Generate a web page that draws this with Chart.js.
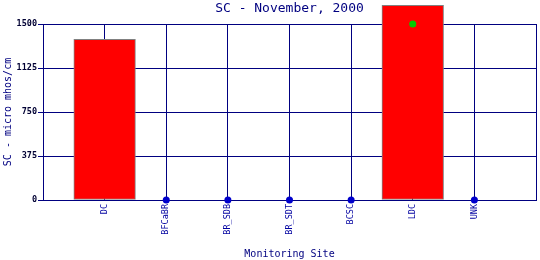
<!DOCTYPE html>
<html><head><meta charset="utf-8">
<script src="https://cdn.jsdelivr.net/npm/chart.js@4/dist/chart.umd.min.js"></script>
<style>html,body{margin:0;padding:0;background:#fff;overflow:hidden}#w{width:540px;height:260px}</style>
</head><body><div id="w"><canvas id="c"></canvas></div>
<script>
const titleText = 'SC - November, 2000';
const categories = ['DC','BFCaBR','BR_SDB','BR_SDT','BCSC','LDC','UNK'];
const scValues = [1370, null, null, null, null, 1660, null];
const noDataMarks = [null, 0, 0, 0, 0, null, 0];
const standardMarks = [null, null, null, null, null, 1500, null];
const yTicks = [0, 375, 750, 1125, 1500];

const pad = a => [null, ...a, null];
const labels = ['', ...categories, ''];
const NAVY = '#000080';
const MONO = '"DejaVu Sans Mono", "Liberation Mono", monospace';

const titlePlugin = {
  id: 'topTitle',
  afterDraw(chart) {
    const ctx = chart.ctx, a = chart.chartArea;
    ctx.save();
    ctx.font = '13px ' + MONO;
    ctx.fillStyle = NAVY;
    ctx.textAlign = 'center';
    ctx.textBaseline = 'middle';
    ctx.fillText(titleText, (a.left + a.right) / 2, 9);
    ctx.restore();
  }
};

new Chart(document.getElementById('c'), {
  data: {
    labels,
    datasets: [
      { type: 'bar', data: pad(scValues), backgroundColor: '#ff0000', borderColor: '#808080', borderWidth: 1,
        borderSkipped: false, barPercentage: 1, categoryPercentage: 1, clip: false, order: 3 },
      { type: 'line', data: pad(noDataMarks), showLine: false, pointRadius: 3.5, pointBackgroundColor: '#0000cc',
        pointBorderColor: '#0000cc', pointBorderWidth: 0, clip: false, order: 1 },
      { type: 'line', data: pad(standardMarks), showLine: false, pointRadius: 3.5, pointBackgroundColor: '#00cc00',
        pointBorderColor: '#00cc00', pointBorderWidth: 0, clip: false, order: 1 }
    ]
  },
  options: {
    responsive: true, maintainAspectRatio: false, animation: false,
    layout: { padding: { top: 24, right: 3, left: 0, bottom: 0 } },
    plugins: { legend: { display: false }, tooltip: { enabled: false }, title: { display: false } },
    scales: {
      x: {
        type: 'category', offset: false,
        grid: { color: NAVY, lineWidth: 1, drawTicks: false, offset: false },
        border: { color: NAVY, width: 1 },
        ticks: { autoSkip: false, minRotation: 90, maxRotation: 90, padding: 4, color: '#0000a0',
          font: { family: MONO, size: 8.5 } },
        title: { display: true, text: 'Monitoring Site', color: NAVY, font: { family: MONO, size: 10 },
          padding: { top: 0, bottom: 0 } },
        afterFit(s) { s.height = 60; s.paddingLeft = 0; s.paddingRight = 0; }
      },
      y: {
        min: 0, max: 1500,
        afterBuildTicks(s) { s.ticks = yTicks.map(v => ({ value: v })); },
        grid: { color: NAVY, lineWidth: 1, tickLength: 5, tickColor: NAVY },
        border: { color: NAVY, width: 1 },
        ticks: { color: '#000033', padding: 1, font: { family: MONO, size: 8.5, weight: 'bold' },
          callback: v => String(v) },
        title: { display: true, text: 'SC - micro mhos/cm', color: NAVY, font: { family: MONO, size: 10 },
          padding: { top: 2, bottom: 0 } },
        afterFit(s) { s.width = 43; s.paddingTop = 0; s.paddingBottom = 0; }
      }
    }
  },
  plugins: [titlePlugin]
});
</script></body></html>
